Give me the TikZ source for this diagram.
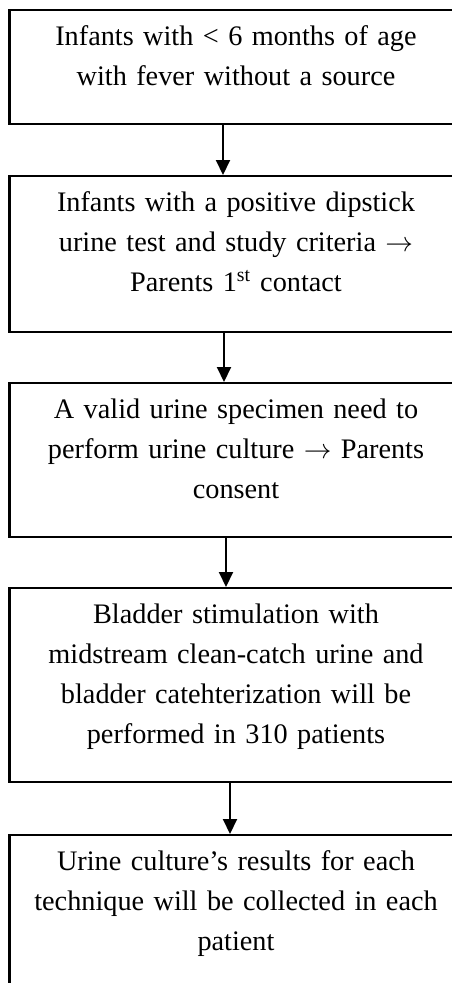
\documentclass[tikz,border=0pt]{standalone}
\usepackage{fontspec}
\setmainfont{Liberation Serif}
\usetikzlibrary{arrows.meta}

\begin{document}
\begin{tikzpicture}[x=0.75pt,y=-0.75pt,
        stepbox/.style={draw, line width=1.6pt, anchor=north, align=center,
            text width=324.75pt, inner xsep=7.5pt, inner ysep=11.5pt,
            font=\fontsize{21.2pt}{30pt}\selectfont},
        flow/.style={line width=1.5pt, -{Triangle[length=11.25pt,width=10.5pt]}}]
        \useasboundingbox (0,0) rectangle (451,983);

        %riquadri
        \node[stepbox, text depth=47.75pt] (fever) at (236,9) {Infants with < 6 months of age\\with fever without a source};
        \node[stepbox, text depth=79.25pt] (dipstick) at (236,175) {Infants with a positive dipstick\\urine test and study criteria $\rightarrow$\\Parents 1\textsuperscript{st} contact};
        \node[stepbox, text depth=77.75pt] (consent) at (236,382) {A valid urine specimen need to\\perform urine culture $\rightarrow$ Parents\\consent};
        \node[stepbox, text depth=107.75pt] (catch) at (236,587) {Bladder stimulation with\\midstream clean-catch urine and\\bladder catehterization will be\\performed in 310 patients};
        \node[stepbox, text depth=77.75pt] (results) at (236,834) {Urine culture's results for each\\technique will be collected in each\\patient};

        %frecce
        \draw[flow] ([xshift=-9.75pt]fever.south) -- ([xshift=-9.75pt]dipstick.north);
        \draw[flow] ([xshift=-9pt]dipstick.south) -- ([xshift=-9pt]consent.north);
        \draw[flow] ([xshift=-7.5pt]consent.south) -- ([xshift=-7.5pt]catch.north);
        \draw[flow] ([xshift=-4.5pt]catch.south) -- ([xshift=-4.5pt]results.north);
    \end{tikzpicture}
\end{document}
